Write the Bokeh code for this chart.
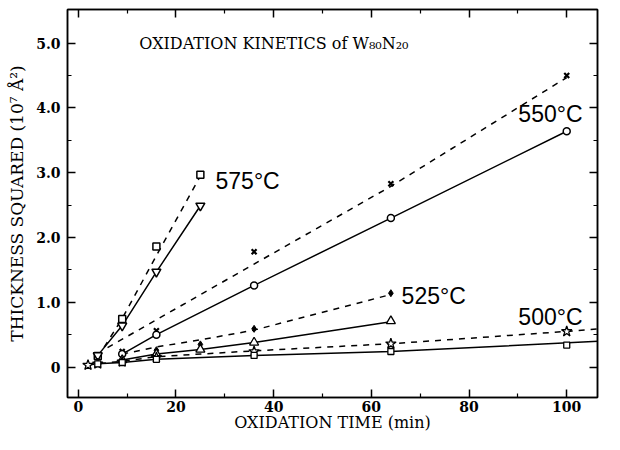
from bokeh.plotting import figure
from bokeh.models import LinearAxis, Range1d, FixedTicker, PrintfTickFormatter, Label, CustomLabelingPolicy
from bokeh.core.properties import value
from bokeh.embed import file_html
from bokeh.resources import INLINE

# ---------------- data ----------------
# 575 C
t575_a = [4, 9, 16, 25]
y575_a = [0.17, 0.74, 1.86, 2.97]
t575_b = [4, 9, 16, 25]
y575_b = [0.18, 0.64, 1.47, 2.49]
fit575_a_x = [4, 9, 16, 25]
fit575_a_y = [0.15, 0.75, 1.72, 2.95]
fit575_b_x = [4, 9, 16, 25]
fit575_b_y = [0.18, 0.64, 1.47, 2.49]

# 550 C
t550_a = [9, 16, 36, 64, 100]
y550_a = [0.24, 0.56, 1.78, 2.83, 4.50]
t550_b = [9, 16, 36, 64, 100]
y550_b = [0.20, 0.50, 1.26, 2.30, 3.64]
fit550_a_x = [6, 36, 64, 100]
fit550_a_y = [0.30, 1.59, 2.79, 4.47]
fit550_b_x = [9, 16, 36, 64, 100]
fit550_b_y = [0.20, 0.50, 1.26, 2.30, 3.64]

# 525 C
t525_a = [16, 25, 36, 64]
y525_a = [0.26, 0.35, 0.59, 1.14]
t525_b = [9, 16, 25, 36, 64]
y525_b = [0.11, 0.20, 0.27, 0.38, 0.71]
fit525_a_x = [9, 16, 25, 36, 64]
fit525_a_y = [0.20, 0.31, 0.42, 0.57, 1.12]
fit525_b_x = [9, 16, 25, 36, 64]
fit525_b_y = [0.11, 0.20, 0.27, 0.38, 0.70]

# 500 C
t500_a = [2, 4, 9, 16, 36, 64, 100]
y500_a = [0.03, 0.05, 0.08, 0.15, 0.24, 0.36, 0.55]
t500_b = [4, 9, 16, 36, 64, 100]
y500_b = [0.05, 0.07, 0.12, 0.18, 0.24, 0.34]
fit500_a_x = [2, 4, 9, 16, 36, 64, 100, 110]
fit500_a_y = [0.03, 0.05, 0.09, 0.16, 0.25, 0.36, 0.55, 0.61]
fit500_b_x = [4, 9, 16, 36, 64, 110]
fit500_b_y = [0.05, 0.07, 0.12, 0.18, 0.24, 0.41]

temp_labels = ["575°C", "550°C", "525°C", "500°C"]
temp_label_x = [28.1, 90.1, 66.2, 90.1]
temp_label_y = [2.88, 3.90, 1.09, 0.78]

x_ticks = [0, 20, 40, 60, 80, 100]
x_minor = [10, 30, 50, 70, 90]
y_ticks = [0, 1, 2, 3, 4, 5]
y_tick_labels = ["0", "1.0", "2.0", "3.0", "4.0", "5.0"]
y_minor = [0.5, 1.5, 2.5, 3.5, 4.5]

title_text = "OXIDATION KINETICS of W₈₀N₂₀"
x_title = "OXIDATION TIME (min)"
y_title = "THICKNESS SQUARED (10⁷ Å²)"

# ---------------- figure ----------------
p = figure(width=604, height=434, output_backend="svg", toolbar_location=None,
           x_range=Range1d(-2.2, 106.3), y_range=Range1d(-0.47, 5.52),
           min_border_left=67, min_border_right=1, min_border_top=9,
           min_border_bottom=36)
p.xgrid.visible = False
p.ygrid.visible = False
p.outline_line_color = "black"
p.outline_line_width = 1.5
p.background_fill_color = "white"
p.border_fill_color = "white"

SERIF = "DejaVu Serif"
hide_all = CustomLabelingPolicy(code="for (const i of indices) indices.unset(i)")

def style_axis(ax, ticks, minor, show_labels):
    ax.ticker = FixedTicker(ticks=ticks, minor_ticks=minor)
    ax.axis_line_color = "black"
    ax.axis_line_width = 1.5
    ax.major_tick_line_width = 1.5
    ax.minor_tick_line_width = 1.2
    ax.major_tick_in = 8
    ax.major_tick_out = 0
    ax.minor_tick_in = 4
    ax.minor_tick_out = 0
    if show_labels:
        ax.major_label_text_font = SERIF
        ax.major_label_text_font_style = "bold"
        ax.major_label_text_font_size = "14px"
        ax.major_label_text_color = "black"
        ax.axis_label_text_font = SERIF
        ax.axis_label_text_font_style = "normal"
        ax.axis_label_text_color = "black"
    else:
        ax.major_label_policy = hide_all
        ax.major_label_text_font_size = "8px"
        ax.major_label_standoff = 0
        ax.axis_label = None

xa = p.xaxis[0]
style_axis(xa, x_ticks, x_minor, True)
xa.axis_label = x_title
xa.axis_label_text_font_size = "16px"
xa.major_label_standoff = 3
xa.axis_label_standoff = -2

ya = p.yaxis[0]
style_axis(ya, y_ticks, y_minor, True)
ya.axis_label = y_title
ya.axis_label_text_font_size = "17px"
ya.formatter = PrintfTickFormatter(format="%.1f")
ya.major_label_overrides = {t: lab for t, lab in zip(y_ticks, y_tick_labels)}
ya.major_label_orientation = "horizontal"
ya.major_label_standoff = 7
ya.axis_label_standoff = 6

top = LinearAxis()
style_axis(top, x_ticks, x_minor, False)
p.add_layout(top, "above")
right = LinearAxis()
style_axis(right, y_ticks, y_minor, False)
p.add_layout(right, "right")

# ---------------- lines ----------------
LW = 1.5
DASH = "6 6"
p.line(fit575_a_x, fit575_a_y, line_color="black", line_width=LW, line_dash=DASH)
p.line(fit575_b_x, fit575_b_y, line_color="black", line_width=LW)
p.line(fit550_a_x, fit550_a_y, line_color="black", line_width=LW, line_dash=DASH)
p.line(fit550_b_x, fit550_b_y, line_color="black", line_width=LW)
p.line(fit525_a_x, fit525_a_y, line_color="black", line_width=LW, line_dash=DASH)
p.line(fit525_b_x, fit525_b_y, line_color="black", line_width=LW)
p.line(fit500_a_x, fit500_a_y, line_color="black", line_width=LW, line_dash=DASH)
p.line(fit500_b_x, fit500_b_y, line_color="black", line_width=LW)

# ---------------- markers ----------------
p.scatter(t575_a, y575_a, marker="square", size=7, line_color="black", line_width=1.5, fill_color="white")
p.scatter(t575_b, y575_b, marker="inverted_triangle", size=9, line_color="black", line_width=1.5, fill_color="white")
p.scatter(t550_a, y550_a, marker="x", size=7, line_color="black", line_width=2.2)
p.scatter(t550_b, y550_b, marker="circle", size=7, line_color="black", line_width=1.5, fill_color="white")
p.scatter(t525_a, y525_a, marker="diamond", size=7, line_color="black", line_width=1, fill_color="black")
p.scatter(t525_b, y525_b, marker="triangle", size=9, line_color="black", line_width=1.3, fill_color="white")
p.scatter(t500_a, y500_a, marker="star", size=11, line_color="black", line_width=1.3, fill_color="white")
p.scatter(t500_b, y500_b, marker="square", size=6, line_color="black", line_width=1.3, fill_color="white")

# ---------------- texts ----------------
p.text(x=temp_label_x, y=temp_label_y, text=temp_labels,
       text_font=value("Liberation Sans"), text_font_size="23px",
       text_color="black", text_baseline="middle", text_align="left")

p.add_layout(Label(x=12.5, y=5.0, text=title_text, text_font=SERIF,
                   text_font_size="16px", text_color="black",
                   text_baseline="middle", text_align="left"))

open("out.html", "w").write(file_html(p, INLINE))
